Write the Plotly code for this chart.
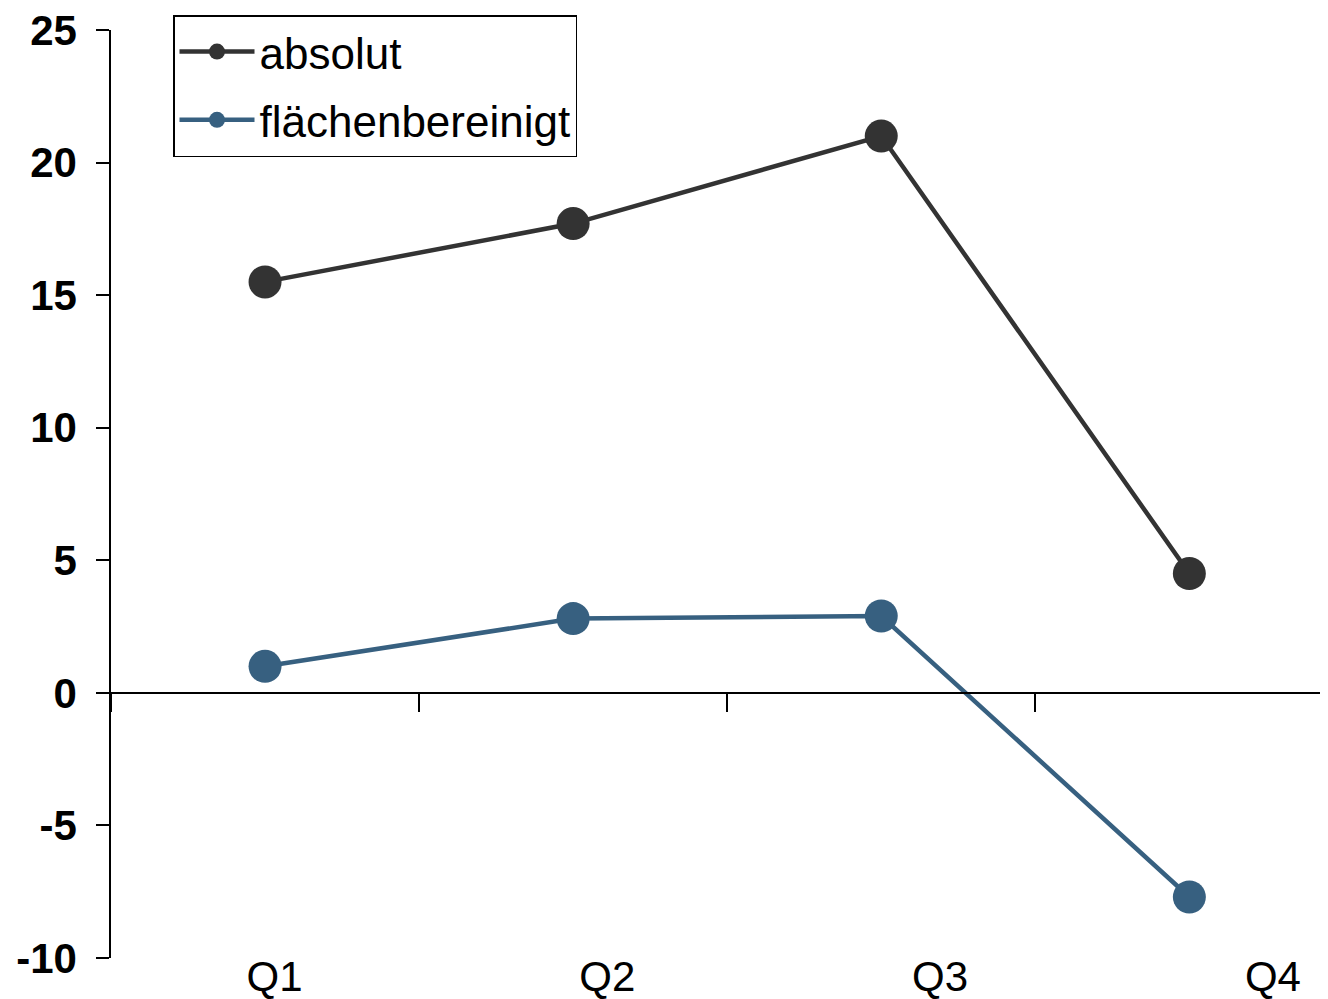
import plotly.graph_objects as go

quarters = ["Q1", "Q2", "Q3", "Q4"]
absolut = [15.5, 17.7, 21.0, 4.5]
flaechenbereinigt = [1.0, 2.8, 2.9, -7.7]
y_ticks = [-10, -5, 0, 5, 10, 15, 20, 25]
y_tick_labels = ["-10", "-5", "0", "5", "10", "15", "20", "25"]

dark = "#333333"
blue = "#376080"
font_family = "Liberation Sans, Arial, sans-serif"

fig = go.Figure()
fig.add_trace(go.Scatter(
    x=quarters, y=absolut, name="absolut", mode="lines+markers",
    line=dict(color=dark, width=4.5), marker=dict(color=dark, size=33),
    legendgroup="a", xaxis="x", yaxis="y"))
fig.add_trace(go.Scatter(
    x=quarters, y=flaechenbereinigt, name="flächenbereinigt", mode="lines+markers",
    line=dict(color=blue, width=4.5), marker=dict(color=blue, size=33),
    legendgroup="b", xaxis="x", yaxis="y"))
# invisible trace to carry the bottom label axis
fig.add_trace(go.Scatter(
    x=quarters, y=[None] * len(quarters), mode="markers", showlegend=False,
    hoverinfo="skip", xaxis="x2", yaxis="y"))

ymin, ymax = -10, 25
fig.update_layout(
    width=1320, height=991,
    margin=dict(l=103, r=0, t=22, b=41, autoexpand=False),
    paper_bgcolor="white", plot_bgcolor="white",
    font=dict(family=font_family, color="black"),
    xaxis=dict(
        type="category", categoryarray=quarters, range=[-0.5, 3.45],
        anchor="free", position=(0 - ymin) / (ymax - ymin),
        showline=True, linecolor="black", linewidth=2,
        ticks="outside", tickson="boundaries", ticklen=18, tickwidth=1.5, tickcolor="black",
        showticklabels=False, showgrid=False, zeroline=False, fixedrange=True),
    xaxis2=dict(
        type="category", categoryarray=quarters, range=[-0.4913, 3.1655],
        overlaying="x", anchor="y", side="bottom",
        showline=False, ticks="", showgrid=False, zeroline=False,
        tickfont=dict(size=42, family=font_family, color="black"),
        ticklabelstandoff=-10, ticklabeloverflow="allow"),
    yaxis=dict(
        range=[ymin, ymax], tickvals=y_ticks, ticktext=y_tick_labels,
        showline=True, linecolor="black", linewidth=1.5,
        ticks="outside", ticklen=13, tickwidth=1.5, tickcolor="black",
        tickfont=dict(size=42, family=font_family, color="black", weight="bold"),
        ticklabelstandoff=11, ticklabeloverflow="allow",
        showgrid=False, zeroline=False),
    legend=dict(
        x=(173 - 111) / 1217, y=(958 - 15) / 928, xanchor="left", yanchor="top",
        bordercolor="black", borderwidth=1.5, bgcolor="white",
        font=dict(size=44, family=font_family, color="black"),
        traceorder="grouped", tracegroupgap=8, itemwidth=75),
    showlegend=True,
)

fig.write_html("out.html")
